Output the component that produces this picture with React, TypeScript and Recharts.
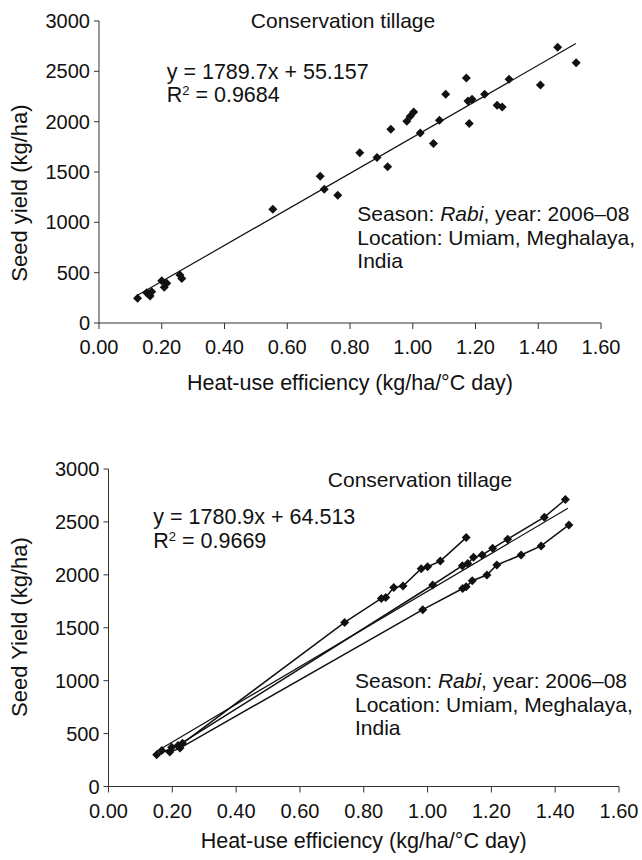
import { ScatterChart, Scatter, XAxis, YAxis } from 'recharts';

const FONT = '"Liberation Sans", Arial, Helvetica, sans-serif';
const INK = '#111';
const AXIS = '#333';

// axis ticks (shared by both panels)
const hueTicks = [0, 0.2, 0.4, 0.6, 0.8, 1.0, 1.2, 1.4, 1.6];
const yieldTicks = [0, 500, 1000, 1500, 2000, 2500, 3000];

// upper panel: single cloud of points
const topHue = [
  0.123, 0.152, 0.157, 0.163, 0.168, 0.2, 0.208, 0.216, 0.258, 0.264, 0.554, 0.705,
  0.718, 0.761, 0.831, 0.886, 0.92, 0.93, 0.981, 0.992, 1.003, 1.024, 1.066, 1.085,
  1.105, 1.171, 1.176, 1.18, 1.189, 1.229, 1.269, 1.285, 1.307, 1.407, 1.462, 1.521,
];
const topYield = [
  245, 301, 288, 268, 311, 420, 354, 394, 476, 443, 1131, 1458,
  1329, 1270, 1690, 1644, 1551, 1925, 2004, 2053, 2096, 1888, 1783, 2014,
  2272, 2434, 2205, 1981, 2222, 2272, 2163, 2146, 2421, 2364, 2738, 2586,
];
const topSlope = 1789.7;
const topIntercept = 55.157;
const topTrendRange = [0.12, 1.52];

// lower panel: three connected series
const aHue = [0.198, 0.232, 0.74, 0.855, 0.869, 0.894, 0.923, 0.98, 1.0, 1.04, 1.121];
const aYield = [372, 408, 1550, 1777, 1787, 1881, 1895, 2058, 2076, 2130, 2352];
const bHue = [0.151, 0.218, 1.016, 1.109, 1.126, 1.144, 1.171, 1.204, 1.251, 1.366, 1.432];
const bYield = [300, 388, 1904, 2086, 2108, 2165, 2188, 2251, 2337, 2545, 2712];
const cHue = [0.167, 0.192, 0.224, 0.985, 1.11, 1.121, 1.14, 1.186, 1.217, 1.293, 1.356, 1.443];
const cYield = [341, 325, 363, 1671, 1871, 1887, 1944, 1998, 2093, 2188, 2273, 2472];
const botSlope = 1780.9;
const botIntercept = 64.513;
const botTrendRange = [0.15, 1.44];

const zip = (xs: number[], ys: number[]) => xs.map((x, i) => ({ x, y: ys[i] }));
const trend = (range: number[], m: number, b: number) => range.map((x) => ({ x, y: m * x + b }));

const Diamond = (props: any) => {
  const { cx, cy } = props;
  if (cx == null || cy == null) return <g />;
  const r = 4.5;
  return <path d={`M${cx},${cy - r}L${cx + r},${cy}L${cx},${cy + r}L${cx - r},${cy}Z`} fill={INK} />;
};
const NoDot = () => <g />;

const tickStyle = { fill: INK, fontSize: 20, fontFamily: FONT };

function Panel({
  height,
  margin,
  yWidth,
  children,
}: {
  height: number;
  margin: { top: number; right: number; bottom: number; left: number };
  yWidth: number;
  children: any;
}) {
  return (
    <ScatterChart width={642} height={height} margin={margin}>
      <XAxis
        type="number"
        dataKey="x"
        domain={[0, 1.6]}
        ticks={hueTicks}
        interval={0}
        tickFormatter={(v: number) => v.toFixed(2)}
        tickSize={6}
        tickMargin={11}
        height={40}
        stroke={AXIS}
        tick={tickStyle}
      />
      <YAxis
        type="number"
        dataKey="y"
        domain={[0, 3000]}
        ticks={yieldTicks}
        interval={0}
        tickSize={5}
        tickMargin={4}
        width={yWidth}
        stroke={AXIS}
        tick={tickStyle}
      />
      {children}
    </ScatterChart>
  );
}

export default function App() {
  const lineStyle = { stroke: INK, strokeWidth: 1.5 };
  return (
    <div style={{ position: 'absolute', left: 0, top: 0, width: 642, height: 860, background: '#fff' }}>
      <div style={{ position: 'absolute', left: 0, top: 0 }}>
        <Panel height={400} margin={{ top: 21, right: 41, bottom: 37, left: 0 }} yWidth={99}>
          <Scatter data={zip(topHue, topYield)} shape={Diamond} isAnimationActive={false} />
          <Scatter
            data={trend(topTrendRange, topSlope, topIntercept)}
            line={{ stroke: INK, strokeWidth: 1.2 }}
            shape={NoDot}
            isAnimationActive={false}
          />
        </Panel>
      </div>
      <div style={{ position: 'absolute', left: 0, top: 440 }}>
        <Panel height={420} margin={{ top: 29, right: 23, bottom: 33.5, left: 0 }} yWidth={108.5}>
          <Scatter data={zip(aHue, aYield)} line={lineStyle} shape={Diamond} isAnimationActive={false} />
          <Scatter data={zip(bHue, bYield)} line={lineStyle} shape={Diamond} isAnimationActive={false} />
          <Scatter data={zip(cHue, cYield)} line={lineStyle} shape={Diamond} isAnimationActive={false} />
          <Scatter
            data={trend(botTrendRange, botSlope, botIntercept)}
            line={{ stroke: INK, strokeWidth: 1.2 }}
            shape={NoDot}
            isAnimationActive={false}
          />
        </Panel>
      </div>
      <svg
        width={642}
        height={860}
        style={{ position: 'absolute', left: 0, top: 0, pointerEvents: 'none' }}
        fontFamily={FONT}
        fill={INK}
      >
        {/* upper panel text */}
        <text x={343} y={28} fontSize={21} textAnchor="middle">Conservation tillage</text>
        <text x={166.7} y={78.5} fontSize={21.5}>y = 1789.7x + 55.157</text>
        <text x={166.7} y={102} fontSize={21.5}>
          R<tspan fontSize={13} dy={-7}>2</tspan>
          <tspan dy={7}> = 0.9684</tspan>
        </text>
        <text x={357.3} y={221} fontSize={21}>
          Season: <tspan fontStyle="italic">Rabi</tspan>, year: 2006–08
        </text>
        <text x={357.3} y={245} fontSize={21}>Location: Umiam, Meghalaya,</text>
        <text x={357.3} y={268} fontSize={21}>India</text>
        <text x={350} y={390} fontSize={21.5} textAnchor="middle">Heat-use efficiency (kg/ha/°C day)</text>
        <text x={27} y={193} fontSize={22} textAnchor="middle" transform="rotate(-90 27 193)">
          Seed yield (kg/ha)
        </text>

        {/* lower panel text */}
        <text x={420} y={487.3} fontSize={21} textAnchor="middle">Conservation tillage</text>
        <text x={153.3} y={523.5} fontSize={21.5}>y = 1780.9x + 64.513</text>
        <text x={153.3} y={547.5} fontSize={21.5}>
          R<tspan fontSize={13} dy={-7}>2</tspan>
          <tspan dy={7}> = 0.9669</tspan>
        </text>
        <text x={355} y={688.3} fontSize={21}>
          Season: <tspan fontStyle="italic">Rabi</tspan>, year: 2006–08
        </text>
        <text x={355} y={711.7} fontSize={21}>Location: Umiam, Meghalaya,</text>
        <text x={355} y={735} fontSize={21}>India</text>
        <text x={363.7} y={848} fontSize={21.5} textAnchor="middle">Heat-use efficiency (kg/ha/°C day)</text>
        <text x={27} y={627} fontSize={22} textAnchor="middle" transform="rotate(-90 27 627)">
          Seed Yield (kg/ha)
        </text>
      </svg>
    </div>
  );
}
